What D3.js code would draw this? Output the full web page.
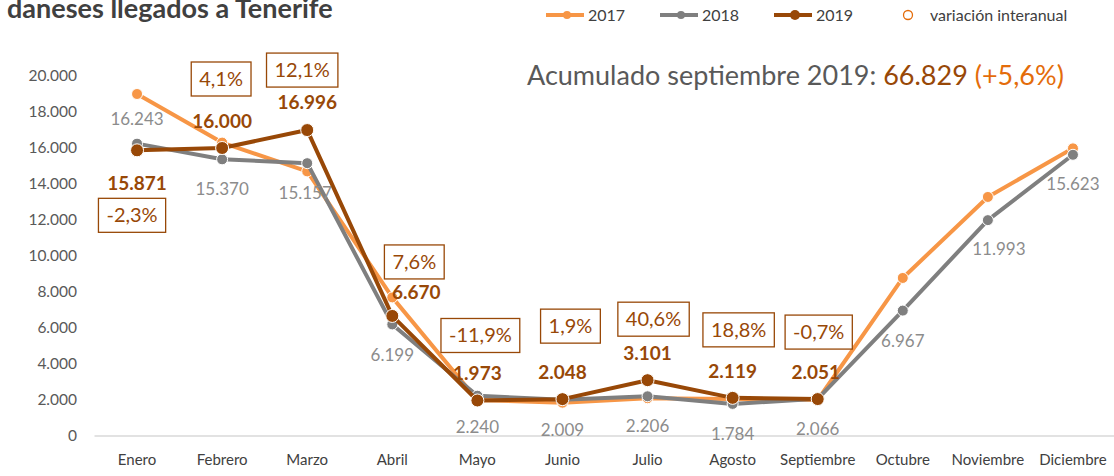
<!DOCTYPE html>
<html>
<head>
<meta charset="utf-8">
<script src="https://cdn.jsdelivr.net/npm/d3@7"></script>
<style>
  body { margin: 0; background: #fff; }
  svg { font-family: Lato, "Open Sans", sans-serif; }
</style>
</head>
<body>
<svg id="chart" width="1114" height="476"></svg>
<script>
// data
const months = ["Enero", "Febrero", "Marzo", "Abril", "Mayo", "Junio", "Julio",
  "Agosto", "Septiembre", "Octubre", "Noviembre", "Diciembre"];
const v2017 = [19000, 16300, 14700, 7700, 2000, 1850, 2100, 2050, 2000, 8780, 13280, 15980];
const v2018 = [16243, 15370, 15157, 6199, 2240, 2009, 2206, 1784, 2066, 6967, 11993, 15623];
const v2019 = [15871, 16000, 16996, 6670, 1973, 2048, 3101, 2119, 2051];
const variation = ["-2,3%", "4,1%", "12,1%", "7,6%", "-11,9%", "1,9%", "40,6%", "18,8%", "-0,7%"];
const yTicks = [0, 2000, 4000, 6000, 8000, 10000, 12000, 14000, 16000, 18000, 20000];

// label placement (px offsets from the point), tuned by eye
const lab18 = [[0, -25], [0, 30], [-2, 30], [0, 31], [0, 31], [0, 30], [0, 30], [0, 30], [0, 30], [0, 30], [11, 29], [0, 29]];
const lab19 = [[0, 33], [0, -27], [0, -28], [24, -24], [0, -27], [0, -27], [0, -27], [0, -27], [-2, -27]];
const boxOff = [[-5, 65], [-1, -69], [-5, -60], [22, -54], [3, -65], [8, -73], [6, -61], [6, -68], [1, -67]];

const C17 = "#f79646", C18 = "#7f7f7f", C19 = "#984807", CVAR = "#e46c0a";
const fmt = d3.formatLocale({ decimal: ",", thousands: ".", grouping: [3], currency: ["", ""] }).format(",d");

const svg = d3.select("#chart");
const x = d3.scaleBand().domain(months).range([94.5, 1115.5]);
const y = d3.scaleLinear().domain([0, 20000]).range([436, 76]);
const cx = m => x(m) + x.bandwidth() / 2;

// y axis labels
svg.append("g").selectAll("text").data(yTicks).join("text")
  .attr("x", 77).attr("y", d => y(d)).attr("dy", "0.35em")
  .attr("text-anchor", "end").attr("font-size", 15.5).attr("fill", "#595959")
  .text(d => fmt(d));

// baseline
svg.append("line").attr("x1", 94.5).attr("x2", 1114).attr("y1", y(0)).attr("y2", y(0))
  .attr("stroke", "#d9d9d9").attr("stroke-width", 1.5);

// x labels
svg.append("g").selectAll("text").data(months).join("text")
  .attr("x", d => cx(d)).attr("y", 460).attr("dy", "0.35em")
  .attr("text-anchor", "middle").attr("font-size", 15).attr("fill", "#404040")
  .text(d => d);

const line = d3.line().x((d, i) => cx(months[i])).y(d => y(d));

function series(vals, color, r) {
  svg.append("path").datum(vals).attr("d", line)
    .attr("fill", "none").attr("stroke", color).attr("stroke-width", 4)
    .attr("stroke-linejoin", "round");
  svg.append("g").selectAll("circle").data(vals).join("circle")
    .attr("cx", (d, i) => cx(months[i])).attr("cy", d => y(d)).attr("r", r)
    .attr("fill", color).attr("stroke", "#fff").attr("stroke-width", 1);
}
series(v2017, C17, 5.5);
series(v2018, C18, 5.5);
series(v2019, C19, 6.5);

// 2018 value labels
svg.append("g").selectAll("text").data(v2018).join("text")
  .attr("x", (d, i) => cx(months[i]) + lab18[i][0])
  .attr("y", (d, i) => y(d) + lab18[i][1]).attr("dy", "0.35em")
  .attr("text-anchor", "middle").attr("font-size", 17).attr("fill", "#8c8c8c")
  .text(d => fmt(d));

// 2019 value labels
svg.append("g").selectAll("text").data(v2019).join("text")
  .attr("x", (d, i) => cx(months[i]) + lab19[i][0])
  .attr("y", (d, i) => y(d) + lab19[i][1]).attr("dy", "0.35em")
  .attr("text-anchor", "middle").attr("font-size", 19).attr("font-weight", "bold")
  .attr("fill", C19)
  .text(d => fmt(d));

// variation boxes
const vg = svg.append("g").selectAll("g").data(variation).join("g")
  .attr("transform", (d, i) => `translate(${cx(months[i]) + boxOff[i][0]},${y(v2019[i]) + boxOff[i][1]})`);
vg.append("rect").attr("fill", "#fff").attr("stroke", C19).attr("stroke-width", 1.3);
vg.append("text").attr("text-anchor", "middle").attr("dy", "0.35em")
  .attr("font-size", 20).attr("fill", C19).text(d => d);
vg.each(function () {
  const g = d3.select(this);
  const b = g.select("text").node().getBBox();
  g.select("rect").attr("x", -b.width / 2 - 8).attr("y", -17)
    .attr("width", b.width + 16).attr("height", 34);
});

// title (its top is cut by the frame in the original too)
svg.append("text").attr("x", 7).attr("y", 18).attr("font-size", 27).attr("font-weight", "bold")
  .attr("fill", "#404040").text("daneses llegados a Tenerife");

// accumulated note
const acc = svg.append("text").attr("x", 527).attr("y", 85).attr("font-size", 27).attr("fill", "#595959");
acc.append("tspan").text("Acumulado septiembre 2019: ");
acc.append("tspan").attr("fill", C19).text("66.829");
acc.append("tspan").attr("fill", CVAR).text(" (+5,6%)");

// legend
const legend = [["2017", C17, 546], ["2018", C18, 660], ["2019", C19, 774]];
const lg = svg.append("g").selectAll("g").data(legend).join("g")
  .attr("transform", d => `translate(${d[2]},15)`);
lg.append("line").attr("x1", 0).attr("x2", 38).attr("stroke", d => d[1]).attr("stroke-width", 4);
lg.append("circle").attr("cx", 21).attr("r", (d, i) => i === 2 ? 5 : 4).attr("fill", d => d[1]);
lg.append("text").attr("x", 42).attr("dy", "0.35em").attr("font-size", 16).attr("fill", "#404040").text(d => d[0]);
svg.append("circle").attr("cx", 908).attr("cy", 15).attr("r", 4.5)
  .attr("fill", "none").attr("stroke", CVAR).attr("stroke-width", 1.3);
svg.append("text").attr("x", 930).attr("y", 15).attr("dy", "0.35em").attr("font-size", 16)
  .attr("fill", "#404040").text("variación interanual");
</script>
</body>
</html>
